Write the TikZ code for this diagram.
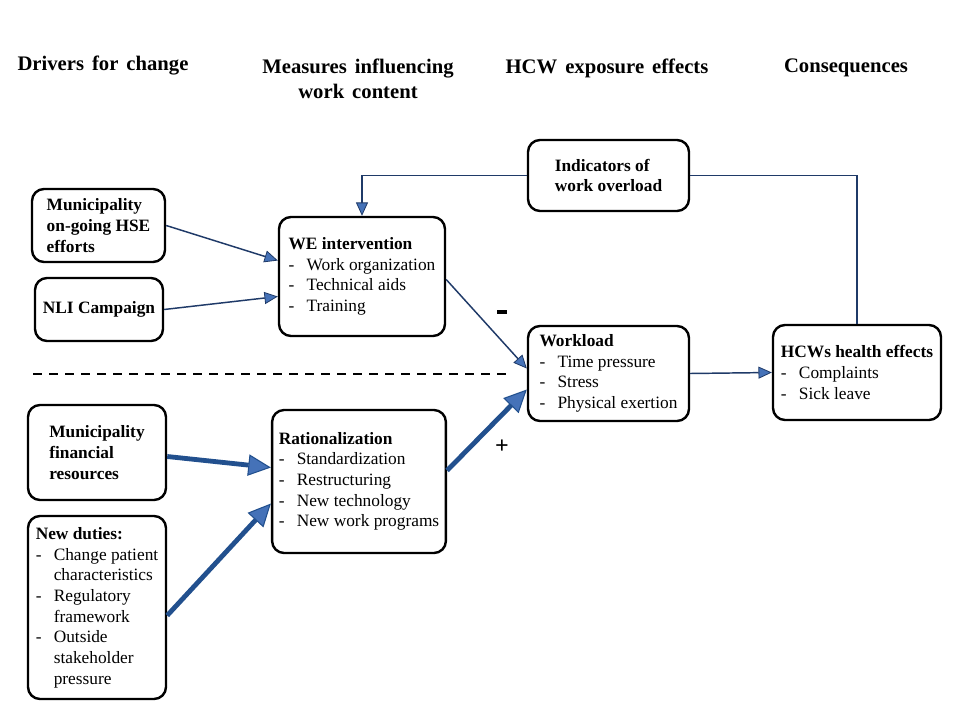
\documentclass[tikz,border=0pt]{standalone}
\usepackage{fontspec}
\setmainfont{Liberation Serif}
\usepackage{tikz}
\usetikzlibrary{arrows.meta, calc}

\definecolor{linenavy}{HTML}{1F3A68}
\definecolor{thicknavy}{HTML}{22508E}
\definecolor{headblue}{HTML}{4572B8}

\newcommand{\itm}{\makebox[13.5pt][l]{-}}
\newcommand{\cont}{\hspace*{13.5pt}}
\newcommand{\widespace}{\spaceskip=6pt plus 1pt\relax}

\tikzset{
  box/.style={draw, line width=1.8pt, rounded corners=9pt, align=left,
    inner xsep=5pt, inner ysep=4pt, font=\fontsize{13}{15.5}\selectfont},
  boxsize/.style 2 args={minimum width=#1*0.75pt, minimum height=#2*0.75pt},
  head/.style={align=center, font=\fontsize{15.5}{18.5}\selectfont\bfseries\widespace},
  sign/.style={font=\fontsize{18}{20}\selectfont\bfseries},
  thinarrow/.style={draw=linenavy, line width=1.1pt,
    -{Triangle[length=10pt,width=9pt,fill=headblue,line width=0.6pt]}},
  thickarrow/.style={draw=thicknavy, line width=3.6pt,
    -{Triangle[length=17pt,width=16pt,fill=headblue,line width=0.8pt]}},
}

\begin{document}
\begin{tikzpicture}[x=0.75pt, y=-0.75pt]
\fill[white] (0,0) rectangle (960,720);
\useasboundingbox (0,0) rectangle (960,720);

% Column headings
\node[head] (hdrivers) at (103,66) {Drivers for change};
\node[head] (hmeasures) at (358,79) {Measures influencing\\work content};
\node[head] (hexposure) at (607,68) {HCW exposure effects};
\node[head] (hconseq) at (846,68) {Consequences};

% Boxes
\node[box, boxsize={133}{73}, font=\fontsize{13}{15.5}\selectfont\bfseries] (muniHSE) at (98.5,225.5)
  {Municipality\\on-going HSE\\efforts};
\node[box, boxsize={128}{63}, font=\fontsize{13}{15.5}\selectfont\bfseries] (nli) at (99,309.5)
  {NLI Campaign};
\node[box, boxsize={166}{119}] (weint) at (362,276.5)
  {\textbf{WE intervention}\\\itm Work organization\\\itm Technical aids\\\itm Training};
\node[box, boxsize={161}{71}, font=\fontsize{13}{15.5}\selectfont\bfseries] (indic) at (608.5,175.5)
  {Indicators of\\work overload};
\node[box, boxsize={161}{95}] (workload) at (608.5,373.5)
  {\textbf{Workload}\\\itm Time pressure\\\itm Stress\\\itm Physical exertion};
\node[box, boxsize={168}{95}] (health) at (857,372.5)
  {\textbf{HCWs health effects}\\\itm Complaints\\\itm Sick leave};
\node[box, boxsize={138}{95}, font=\fontsize{13}{15.5}\selectfont\bfseries] (munifin) at (97,452.5)
  {Municipality\\financial\\resources};
\node[box, boxsize={172}{143}] (ration) at (359,481.5)
  {\textbf{Rationalization}\\\itm Standardization\\\itm Restructuring\\\itm New technology\\\itm New work programs};
\node[box, boxsize={138}{183}] (duties) at (97,607.5)
  {\textbf{New duties:}\\\itm Change patient\\\cont characteristics\\\itm Regulatory\\\cont framework\\\itm Outside\\\cont stakeholder\\\cont pressure};

% Divider
\draw[line width=1.5pt, dash pattern=on 7pt off 5pt] (33,374) -- (510,374);

% Signs
\node[inner sep=0pt] (minus) at (502,312) {\rule{7pt}{3.5pt}};
\node[sign] (plus) at (502,447) {+};

% Connectors
\draw[thinarrow] (muniHSE.east) -- ($(weint.west)+(0,-16)$);
\draw[thinarrow] (nli.east) -- ($(weint.west)+(0,20)$);
\draw[thinarrow] ($(weint.east)+(0,3)$) -- ($(workload.west)+(0,-5)$);
\draw[thinarrow] (workload.east) -- (health.west);
\draw[thickarrow] ($(munifin.east)+(0,4)$) -- ($(ration.west)+(0,-14)$);
\draw[thickarrow] ($(duties.east)+(0,8)$) -- ($(ration.west)+(0,22)$);
\draw[thickarrow] ($(ration.east)+(0,-11)$) -- ($(workload.west)+(0,16)$);

% Feedback loop
\draw[draw=linenavy, line width=1.1pt] (health.north) |- (indic.east);
\draw[thinarrow] (indic.west) -| (weint.north);
\end{tikzpicture}
\end{document}
